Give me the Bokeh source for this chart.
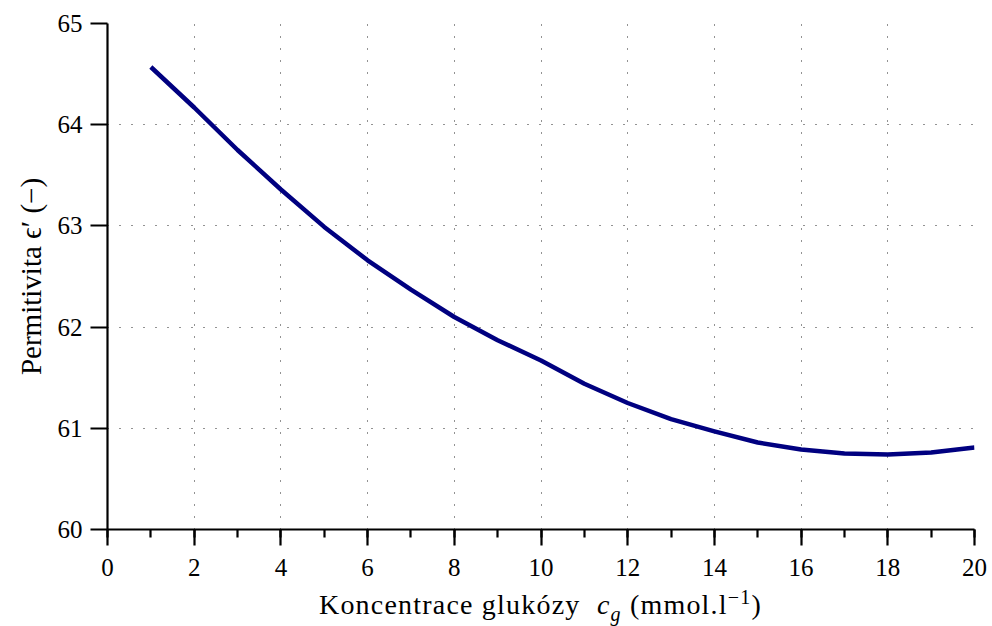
import numpy as np
from bokeh.plotting import figure
from bokeh.models import Range1d, SingleIntervalTicker, Div
from bokeh.layouts import column
from bokeh.embed import file_html
from bokeh.resources import INLINE

# data
conc = [1, 2, 3, 4, 5, 6, 7, 8, 9, 10, 11, 12, 13, 14, 15, 16, 17, 18, 19, 20]
perm = [64.57, 64.17, 63.75, 63.36, 62.99, 62.66, 62.37, 62.10, 61.87, 61.67,
        61.44, 61.25, 61.09, 60.97, 60.86, 60.79, 60.75, 60.74, 60.76, 60.81]
x_ticks_major = 2
y_ticks_major = 1
x_label_html = ('Koncentrace glukózy&nbsp; <i>c</i><sub style="font-size:20px; font-style:italic">g</sub>'
                ' (mmol.l<sup style="font-size:20px">−1</sup>)')
y_label = "Permitivita ϵ′ (−)"

FONT = "Liberation Serif"
FS = "25px"
FS_LABEL = "29px"

p = figure(width=992, height=590, output_backend="svg", toolbar_location=None,
           x_range=Range1d(0, 20), y_range=Range1d(60, 65),
           min_border_left=107, min_border_right=18, min_border_top=23, min_border_bottom=61)
p.outline_line_color = None
p.background_fill_color = "white"
p.border_fill_color = "white"

p.line(conc, perm, line_color="#000080", line_width=4.5, line_join="round")

# axes
p.xaxis.ticker = SingleIntervalTicker(interval=x_ticks_major, num_minor_ticks=2)
p.yaxis.ticker = SingleIntervalTicker(interval=y_ticks_major, num_minor_ticks=0)
for ax in (p.xaxis, p.yaxis):
    ax.axis_line_width = 2.2
    ax.axis_line_color = "black"
    ax.major_tick_line_width = 2.2
    ax.minor_tick_line_width = 2.2
    ax.major_tick_line_color = "black"
    ax.minor_tick_line_color = "black"
    ax.major_tick_in = 0
    ax.minor_tick_in = 0
    ax.major_label_text_font = FONT
    ax.major_label_text_font_size = FS
    ax.major_label_text_color = "black"
    ax.axis_label_text_font = FONT
    ax.axis_label_text_font_size = FS_LABEL
    ax.axis_label_text_font_style = "normal"
    ax.axis_label_text_color = "black"
p.xaxis.major_tick_out = 16
p.xaxis.minor_tick_out = 8
p.yaxis.major_tick_out = 17
p.xaxis.major_label_standoff = 13
p.yaxis.major_label_standoff = 8
p.yaxis.axis_label = y_label
p.yaxis.axis_label_standoff = 8

# grid
for g in (p.xgrid, p.ygrid):
    g.grid_line_color = "black"
    g.grid_line_width = 1
    g.grid_line_dash = "1 11"
    g.grid_line_alpha = 0.85

xlab = Div(
    text=('<div style="position:relative; top:-8px; width:867px; margin-left:107px; '
          'text-align:center; white-space:nowrap; font-family:\'Liberation Serif\'; '
          'font-size:28px; letter-spacing:1.2px; line-height:30px; color:black;">'
          + x_label_html + '</div>'),
    width=992, height=36, margin=0,
)

layout = column(p, xlab, spacing=0)
open("out.html", "w").write(file_html(layout, INLINE))
